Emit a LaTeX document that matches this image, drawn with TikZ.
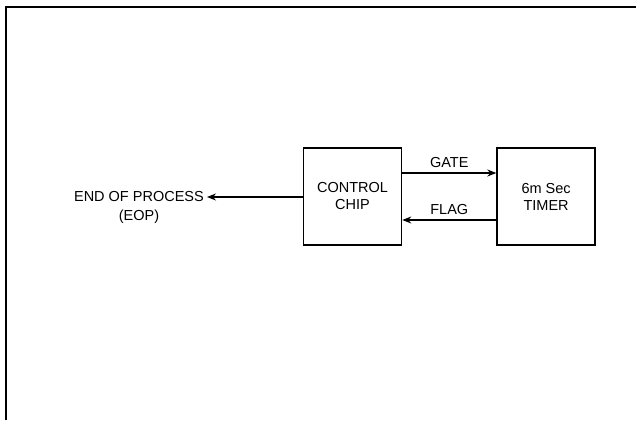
\documentclass[tikz,border=0pt]{standalone}
\usepackage{fontspec}
\setmainfont{Liberation Sans}
\usetikzlibrary{arrows.meta,positioning}

\begin{document}
\begin{tikzpicture}[x=1pt, y=-1pt,
    % Style for the two blocks (plain square boxes)
    blk/.style={draw=black, line width=1.6pt, minimum width=98pt, minimum height=97pt,
        inner sep=0pt, align=center, font=\fontsize{14.5}{17}\selectfont},
    % Style for the signal lines (arrows)
    sig/.style={-{Stealth[length=9pt, width=7pt]}, line width=1.1pt},
    % Style for the small labels
    lbl/.style={font=\fontsize{14.5}{19}\selectfont, inner sep=1pt, align=center}
]

% page size and frame
\useasboundingbox (0,0) rectangle (636,420);
\draw[line width=1.8pt] (6,420) -- (6,7) -- (636,7);

% Blocks
\node[blk] (ctrl) at (352.5,196.5) {CONTROL\\CHIP};
\node[blk, right=94pt of ctrl] (timer) {6m Sec\\TIMER};

% Output text
\node[lbl, anchor=east] (eop) at (205,207) {END OF PROCESS\\(EOP)};
\coordinate (eopin) at (207,197);

% Signals between the blocks
\draw[sig] ([yshift=23.5pt]ctrl.east) -- node[lbl, above=4pt] (gate) {GATE} ([yshift=23.5pt]timer.west);
\draw[sig] ([yshift=-23.5pt]timer.west) -- node[lbl, above=4pt] (flag) {FLAG} ([yshift=-23.5pt]ctrl.east);

% End of process line
\draw[sig] (ctrl.west |- eopin) -- (eopin);

\end{tikzpicture}
\end{document}
